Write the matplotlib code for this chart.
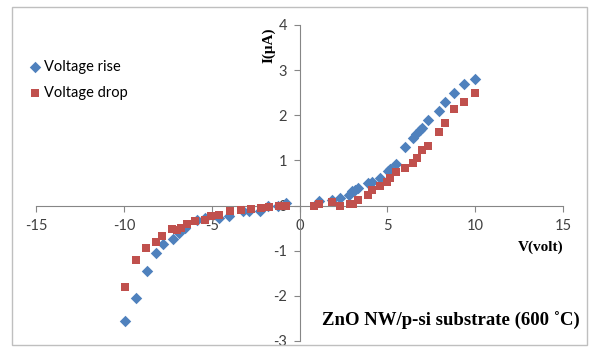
"""I-V characteristic of ZnO NW / p-si substrate."""

import matplotlib.pyplot as plt
from matplotlib.patches import Rectangle

# Voltage rise (blue diamonds)
rise_v = [-9.93, -9.28, -8.70, -8.17, -7.76, -7.19, -6.85, -6.54, -5.85, -5.37,
          -4.56, -3.99, -3.24, -2.86, -2.24, -1.77, -1.20, -0.79,
          1.09, 1.85, 2.32, 2.79, 2.97, 3.16, 3.35, 3.92, 4.10, 4.58, 5.05,
          5.18, 5.50, 5.99, 6.46, 6.65, 6.84, 6.99, 7.31, 7.93, 8.31, 8.81,
          9.38, 9.98]
rise_i = [-2.55, -2.04, -1.45, -1.04, -0.86, -0.74, -0.60, -0.49, -0.31, -0.27,
          -0.27, -0.24, -0.12, -0.12, -0.12, -0.02, 0.00, 0.05,
          0.10, 0.13, 0.17, 0.24, 0.32, 0.35, 0.39, 0.49, 0.52, 0.61, 0.76,
          0.81, 0.92, 1.29, 1.49, 1.59, 1.68, 1.71, 1.90, 2.10, 2.29, 2.49,
          2.69, 2.80]

# Voltage drop (red squares)
drop_v = [-9.93, -9.28, -8.74, -8.19, -7.81, -7.23, -6.95, -6.72, -6.40, -5.93,
          -5.38, -5.02, -4.56, -3.94, -3.33, -2.77, -2.20, -1.73, -1.17, -0.79,
          0.81, 1.09, 1.85, 2.32, 2.88, 3.07, 3.35, 3.92, 4.10, 4.58, 5.00,
          5.14, 5.52, 5.99, 6.46, 6.68, 6.99, 7.31, 7.93, 8.31, 8.81, 9.38,
          9.98]
drop_i = [-1.80, -1.20, -0.93, -0.80, -0.68, -0.53, -0.54, -0.49, -0.40, -0.35,
          -0.33, -0.24, -0.20, -0.11, -0.09, -0.07, -0.05, -0.03, -0.01, -0.01,
          0.00, 0.04, 0.08, 0.00, 0.04, 0.04, 0.13, 0.24, 0.34, 0.44, 0.52,
          0.61, 0.74, 0.83, 0.94, 1.05, 1.24, 1.32, 1.64, 1.84, 2.13, 2.30,
          2.49]

x_ticks = [-15, -10, -5, 0, 5, 10, 15]
y_ticks = [-3, -2, -1, 0, 1, 2, 3, 4]

BLUE = "#4F81BD"
RED = "#C0504D"
AXIS = "#868686"
TICK_FONT = "Lato"
SERIF = "Liberation Serif"

plt.rcParams["axes.unicode_minus"] = False

fig = plt.figure(figsize=(5.89, 3.47), dpi=100)
fig.patches.append(Rectangle((12 / 589, 2 / 347), 575 / 589, 338 / 347,
                             transform=fig.transFigure, fill=False,
                             edgecolor="#BFBFBF", linewidth=1.0))
ax = fig.add_axes([36 / 589, 6 / 347, 527 / 589, 316 / 347])

ax.scatter(rise_v, rise_i, marker="D", s=34, color=BLUE, label="Voltage rise",
           zorder=3, linewidths=0)
ax.scatter(drop_v, drop_i, marker="s", s=32, color=RED, label="Voltage drop",
           zorder=3, linewidths=0)

ax.set_xlim(-15, 15)
ax.set_ylim(-3, 4)
ax.set_xticks(x_ticks)
ax.set_yticks(y_ticks)

ax.spines["left"].set_position(("data", 0))
ax.spines["bottom"].set_position(("data", 0))
ax.spines["right"].set_visible(False)
ax.spines["top"].set_visible(False)
for side in ("left", "bottom"):
    ax.spines[side].set_color(AXIS)
    ax.spines[side].set_linewidth(0.8)

ax.tick_params(axis="both", direction="out", length=4, width=0.8, color=AXIS,
               labelsize=10.5, labelcolor="#404040")
ax.tick_params(axis="x", pad=6)
ax.tick_params(axis="y", pad=5)
for lbl in ax.get_xticklabels() + ax.get_yticklabels():
    lbl.set_fontfamily(TICK_FONT)

ax.text(-1.75, 3.55, "I(\u03bcA)", rotation=90, ha="center", va="center",
        fontsize=11, fontweight="bold", family=SERIF)
ax.text(15, -0.93, "V(volt)", ha="right", va="center",
        fontsize=11, fontweight="bold", family=SERIF)
ax.text(15.95, -2.55, "ZnO NW/p-si substrate (600 \u02daC)", ha="right",
        va="center", fontsize=13.5, fontweight="bold", family=SERIF)

ax.legend(loc="upper left", bbox_to_anchor=(-0.04, 0.93), frameon=False,
          prop={"family": TICK_FONT, "size": 10.5}, handletextpad=0.1,
          handlelength=1.0, labelspacing=0.8, scatterpoints=1)

fig.savefig("out.png", dpi=100)
